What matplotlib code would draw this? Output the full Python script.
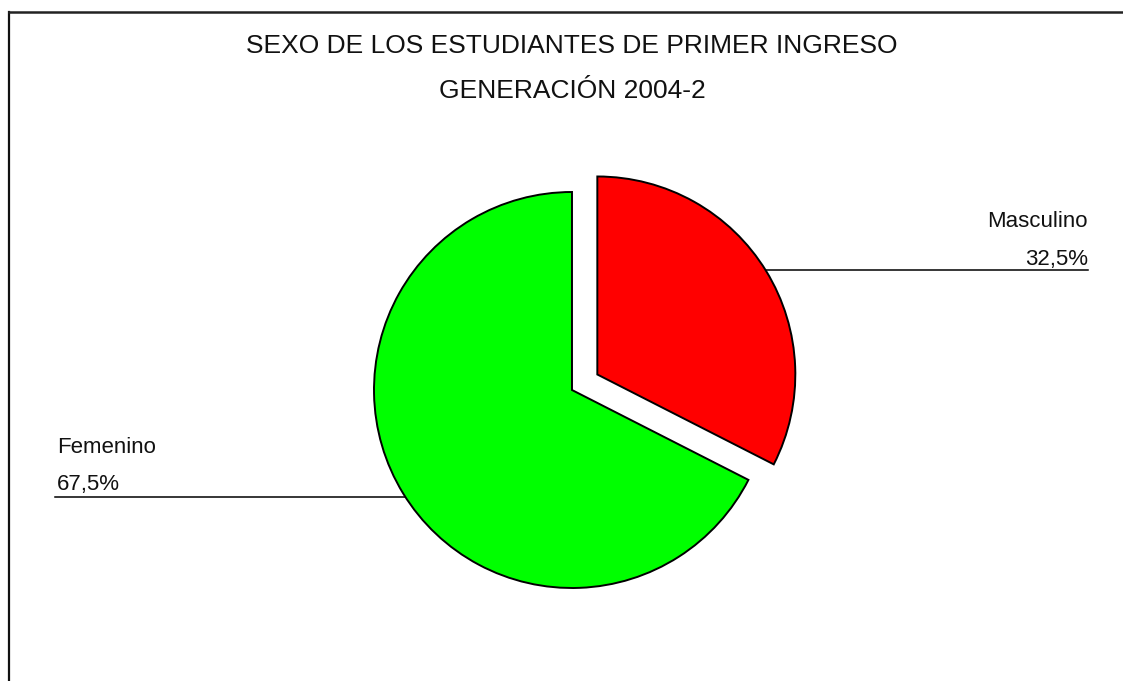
import matplotlib
matplotlib.use("Agg")
import matplotlib.pyplot as plt
from matplotlib.lines import Line2D
import numpy as np

plt.rcParams['font.family'] = ['Liberation Sans', 'DejaVu Sans']

title_lines = ["SEXO DE LOS ESTUDIANTES DE PRIMER INGRESO", "GENERACIÓN 2004-2"]
categories = ["Masculino", "Femenino"]
percentages = [32.5, 67.5]
pct_labels = ["32,5%", "67,5%"]
colors = ["#FF0000", "#00FF00"]
explode = [0.15, 0.0]

W, H = 1123, 681
fig = plt.figure(figsize=(W / 100, H / 100), dpi=100)
fig.patch.set_facecolor("white")

def fx(px):
    return px / W

def fy(py):
    return 1 - py / H

# border (top and left visible)
fig.add_artist(Line2D([fx(8.5), fx(8.5)], [fy(11.5), fy(H + 5)], transform=fig.transFigure, color="#111111", lw=1.6))
fig.add_artist(Line2D([fx(8.5), fx(W + 5)], [fy(11.5), fy(11.5)], transform=fig.transFigure, color="#222222", lw=1.8))

# pie axes: center at (572, 390) px, radius 197 px
cx, cy, R = 572, 390, 198
span = 1.5
ax = fig.add_axes([fx(cx - span * R), fy(cy + span * R), 2 * span * R / W, 2 * span * R / H])

wedges, _ = ax.pie(percentages, colors=colors, explode=explode, startangle=90,
                   counterclock=False, radius=1.0,
                   wedgeprops=dict(edgecolor="black", linewidth=1.4))
ax.set_xlim(-span, span)
ax.set_ylim(-span, span)
ax.set_aspect("auto")
ax.axis("off")
for w in wedges:
    w.set_clip_on(False)

def to_data_y(py):
    return (cy - py) / R

def to_data_x(px):
    return (px - cx) / R

# Masculino leader (exploded wedge)
mid = np.deg2rad(90 - percentages[0] / 100 * 360 / 2)
ox, oy = explode[0] * np.cos(mid), explode[0] * np.sin(mid)
yl = to_data_y(270)
xe = ox + np.sqrt(1 - (yl - oy) ** 2)
ax.plot([xe, to_data_x(1088)], [yl, yl], color="black", lw=1.1, clip_on=False)

# Femenino leader
yl2 = to_data_y(497)
xe2 = -np.sqrt(1 - yl2 ** 2)
ax.plot([to_data_x(55), xe2], [yl2, yl2], color="black", lw=1.1, clip_on=False)

fs_lab = 16
fig.text(fx(1088), fy(227), categories[0], ha="right", va="baseline", fontsize=fs_lab, color="#111111")
fig.text(fx(1088), fy(265), pct_labels[0], ha="right", va="baseline", fontsize=fs_lab, color="#111111")
fig.text(fx(57), fy(453), categories[1], ha="left", va="baseline", fontsize=fs_lab, color="#111111")
fig.text(fx(57), fy(490), pct_labels[1], ha="left", va="baseline", fontsize=fs_lab, color="#111111")

fig.text(fx(572), fy(53), title_lines[0], ha="center", va="baseline", fontsize=19, color="#111111")
fig.text(fx(572), fy(98), title_lines[1], ha="center", va="baseline", fontsize=19, color="#111111")

fig.savefig("out.png", dpi=100, facecolor="white")
